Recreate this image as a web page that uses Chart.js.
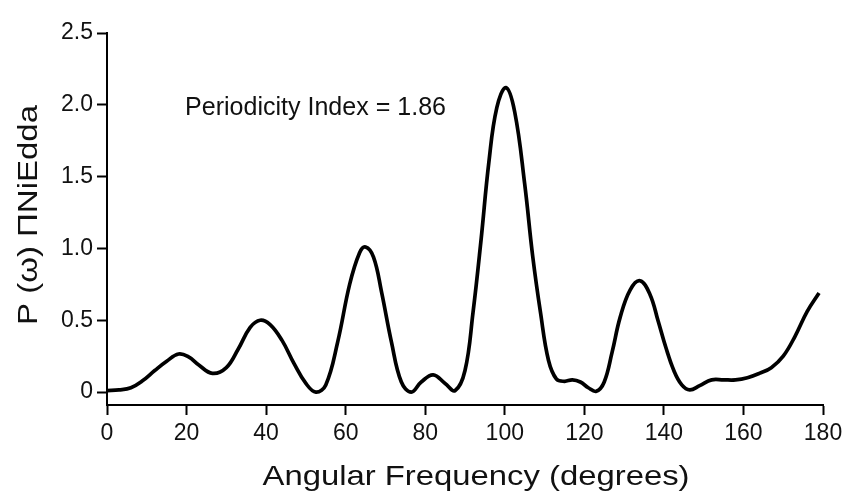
<!DOCTYPE html>
<html>
<head>
<meta charset="utf-8">
<script src="https://cdn.jsdelivr.net/npm/chart.js@4/dist/chart.umd.min.js"></script>
<style>
  html, body { margin: 0; padding: 0; background: #fff; }
  #wrap { width: 852px; height: 504px; position: relative; }
</style>
</head>
<body>
<div id="wrap"><canvas id="c" width="852" height="504"></canvas></div>
<script>
// ---- data ----
const angles = [0, 3, 6, 9, 12, 15, 18, 20.5, 23, 26.5, 30, 33, 36, 38.5, 41, 44, 47, 50, 52.5, 55, 58, 61, 63.5, 65, 67, 69, 71.5, 74, 76.5, 79, 82, 85, 87.5, 90, 92, 94, 96, 98, 100.3, 102.5, 105, 107, 109, 111, 113, 115, 117, 119, 121, 123, 125, 127, 129, 131.5, 134, 136.5, 138.5, 140.5, 142.5, 144.5, 146.5, 149, 152, 155, 158, 161, 164, 167, 170, 173, 176, 179];
const power = [0.01, 0.015, 0.03, 0.08, 0.15, 0.215, 0.265, 0.245, 0.19, 0.13, 0.17, 0.30, 0.45, 0.50, 0.47, 0.36, 0.20, 0.06, 0.0, 0.05, 0.35, 0.75, 0.97, 1.01, 0.94, 0.70, 0.35, 0.07, 0.0, 0.07, 0.12, 0.06, 0.01, 0.15, 0.55, 1.05, 1.60, 1.98, 2.12, 1.95, 1.45, 0.95, 0.55, 0.22, 0.09, 0.075, 0.085, 0.07, 0.03, 0.005, 0.07, 0.28, 0.52, 0.71, 0.775, 0.68, 0.50, 0.31, 0.15, 0.05, 0.015, 0.045, 0.085, 0.085, 0.085, 0.10, 0.13, 0.17, 0.25, 0.39, 0.56, 0.69];
const yTickValues = [0, 0.5, 1.0, 1.5, 2.0, 2.5];
const xTitle = 'Angular Frequency (degrees)';
const yTitle = 'P (\u03C9) \u03A0NiEdda';
const annotationText = 'Periodicity Index = 1.86';

const points = angles.map((a, i) => ({ x: a, y: power[i] }));

const FONT = '"Liberation Sans", Arial, Helvetica, sans-serif';

function drawFittedText(ctx, text, size, x, y, targetWidth, align, rotate) {
  ctx.save();
  ctx.font = size + 'px ' + FONT;
  ctx.fillStyle = '#111';
  ctx.textBaseline = 'alphabetic';
  const w = ctx.measureText(text).width;
  const sx = targetWidth / w;
  ctx.translate(x, y);
  if (rotate) ctx.rotate(-Math.PI / 2);
  ctx.scale(sx, 1);
  ctx.textAlign = align;
  ctx.fillText(text, 0, 0);
  ctx.restore();
}

const textPlugin = {
  id: 'texts',
  afterDraw(chart) {
    const ctx = chart.ctx;
    drawFittedText(ctx, annotationText, 26, 185, 115, 261, 'left', false);
    drawFittedText(ctx, xTitle, 28, 476, 485, 427, 'center', false);
    drawFittedText(ctx, yTitle, 28, 37, 215, 220, 'center', true);
  }
};

new Chart(document.getElementById('c'), {
  type: 'line',
  data: {
    datasets: [{
      data: points,
      borderColor: '#000',
      borderWidth: 3.7,
      pointRadius: 0,
      fill: false,
      tension: 0.4
    }]
  },
  options: {
    responsive: false,
    animation: false,
    events: [],
    layout: { padding: { top: 33, right: 29, left: 0, bottom: 0 } },
    plugins: { legend: { display: false }, tooltip: { enabled: false } },
    scales: {
      x: {
        type: 'linear',
        min: 0, max: 180,
        afterFit(s) { s.height = 99; },
        border: { display: true, color: '#000', width: 2 },
        grid: { display: true, drawOnChartArea: false, drawTicks: true, tickLength: 10, tickWidth: 2, tickColor: '#000' },
        ticks: { stepSize: 20, padding: 5, color: '#111', font: { family: FONT, size: 23 }, maxRotation: 0 }
      },
      y: {
        type: 'linear',
        min: -0.09, max: 2.5,
        afterFit(s) { s.width = 107; },
        afterBuildTicks(s) { s.ticks = yTickValues.map(v => ({ value: v })); },
        border: { display: true, color: '#000', width: 2 },
        grid: { display: true, drawOnChartArea: false, drawTicks: true, tickLength: 10, tickWidth: 2, tickColor: '#000' },
        ticks: {
          padding: 4, color: '#111', font: { family: FONT, size: 23 },
          callback: v => (v === 0 ? '0' : Number(v).toFixed(1))
        }
      }
    }
  },
  plugins: [textPlugin]
});
</script>
</body>
</html>
